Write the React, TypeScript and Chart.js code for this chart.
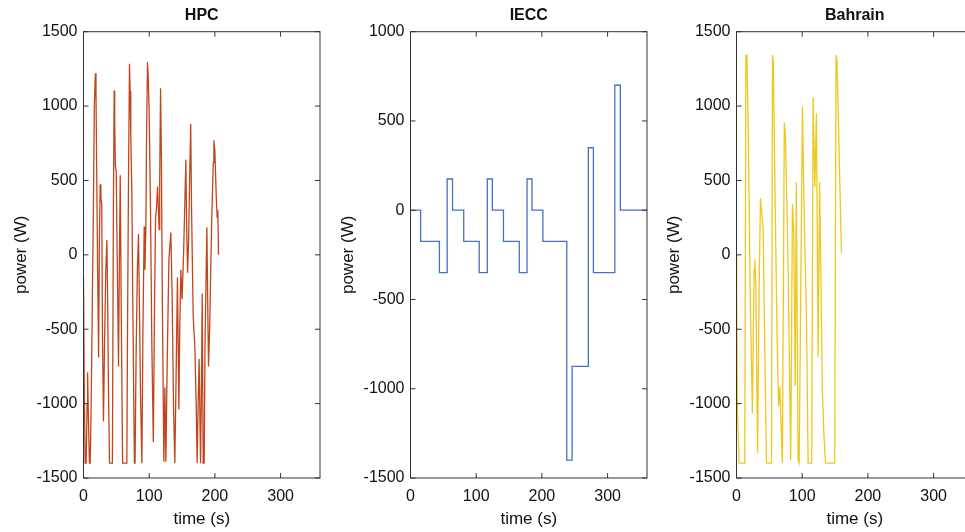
import React, { useEffect, useRef } from "react";
import { Chart, registerables } from "chart.js";

Chart.register(...registerables);

// ---------- data ----------
const panelTitles = ["HPC", "IECC", "Bahrain"];
const xTickValues = [0, 100, 200, 300];

const hpcTime = [0, 1, 2.5, 4, 5.5, 6.2, 7.5, 9, 10.2, 11.5, 13, 15, 16.5, 18, 19, 20, 21.5, 23, 24.2, 25.4, 26.5, 27.8, 28.8, 30.4, 32, 34, 35.6, 36.5, 38, 39.6, 44, 45.5, 46.7, 47.5, 48.5, 49.8, 51, 53.3, 54.5, 55.9, 57.5, 59.5, 66, 67, 68.5, 70, 71, 72, 73.6, 75, 77.5, 78.5, 80, 82, 83.7, 85, 87, 88.9, 90.5, 92.4, 93.5, 95, 96, 97.4, 98.5, 100, 102, 104, 106.3, 108, 109.7, 111, 112.7, 115.2, 116, 117.3, 118.5, 120, 122.3, 123.9, 125.4, 127.5, 130, 131.5, 133, 135, 137, 139, 141, 143, 145.2, 146.5, 148.2, 150, 152.3, 154, 155.8, 157, 158.4, 160, 161.5, 163.2, 164.5, 167, 169.5, 171.5, 173, 174.5, 176, 178.2, 179.5, 180.7, 182.2, 183.7, 185, 187.8, 189, 190.3, 192, 195, 197.5, 198.5, 200, 202, 203.5, 204.5, 205.5];
const hpcPower = [-150, -820, -1400, -1400, -1000, -790, -1100, -1400, -1400, -1060, -500, 300, 1000, 1220, 1100, 600, -100, -690, 100, 475, 380, 340, -500, -1120, -600, -100, 100, -200, -900, -1400, -1400, 300, 1105, 900, 600, 560, 100, -750, -100, 535, -400, -1400, -1400, -500, 500, 1285, 1100, 800, 410, -300, -1400, -1400, -700, -100, 140, -300, -1000, -1400, -500, 190, -100, 200, 800, 1295, 1200, 950, 300, -600, -1260, -400, 257, 300, 460, 170, 500, 1120, 700, -300, -1390, -890, -1390, -700, -30, 60, 150, -300, -1000, -1400, -800, -150, -1040, -500, -100, -300, 0, 300, 640, 200, -120, 100, 500, 880, 300, -415, -620, -1000, -1400, -1000, -700, -1400, -900, -260, -1400, -1400, -600, 185, -300, -750, -500, 200, 620, 770, 700, 400, 250, 300, 0];

const ieccTime = [0, 15.4, 44, 55.8, 64, 81, 104.6, 116.9, 124.6, 141.5, 165.6, 177.4, 185, 201.5, 237.9, 246, 270.7, 278.4, 311, 319.4, 360];
const ieccPower = [0, -175, -350, 175, 0, -175, -350, 175, 0, -175, -350, 175, 0, -175, -1400, -875, 350, -350, 700, 0, 0];

const bahrainTime = [0, 0.3, 1.5, 4, 12.6, 14.3, 16, 18, 21, 24.2, 26.8, 28, 29.5, 32, 34.5, 36.5, 38, 40.5, 45.6, 53.3, 54.8, 56, 59, 61.8, 64, 66, 69.8, 72.8, 74.5, 78.6, 82.5, 85.2, 87.2, 89.5, 91, 93.8, 95.4, 100.4, 102.5, 106.5, 109, 114.5, 116.6, 119.2, 121.7, 124.2, 126.5, 130.8, 133, 135.5, 149.5, 151.5, 153, 159.8];
const bahrainPower = [0, -240, -1050, -1400, -1400, 1340, 1340, 800, -300, -1065, -100, -30, -220, -1330, -200, 380, 300, 180, -1400, -1400, 1343, 1300, 300, -550, -1020, -886, -1400, 890, 800, -80, -1380, 340, 145, -880, 490, -1380, -1400, 996, 400, -415, -1400, -1400, 1060, 458, 950, -685, 490, -930, -1200, -1400, -1400, 1343, 1300, 10];

// ---------- styling ----------
const FONT = "'Liberation Sans', Arial, Helvetica, sans-serif";
const AXIS_COLOR = "#333333";
const TEXT_COLOR = "#111111";
const TICK_LEN = 5;

const boxTicks = {
  id: "boxTicks",
  afterDatasetsDraw(chart: any) {
    const { ctx, chartArea: a, scales } = chart;
    const xs = scales.x;
    const ys = scales.y;
    ctx.save();
    ctx.strokeStyle = AXIS_COLOR;
    ctx.lineWidth = 1;
    ctx.strokeRect(a.left, a.top, a.right - a.left, a.bottom - a.top);
    ctx.beginPath();
    xs.ticks.forEach((t: any) => {
      const x = xs.getPixelForValue(t.value);
      ctx.moveTo(x, a.bottom);
      ctx.lineTo(x, a.bottom - TICK_LEN);
      ctx.moveTo(x, a.top);
      ctx.lineTo(x, a.top + TICK_LEN);
    });
    ys.ticks.forEach((t: any) => {
      const y = ys.getPixelForValue(t.value);
      ctx.moveTo(a.left, y);
      ctx.lineTo(a.left + TICK_LEN, y);
      ctx.moveTo(a.right, y);
      ctx.lineTo(a.right - TICK_LEN, y);
    });
    ctx.stroke();
    // panel title, centred over the plot area
    const title = chart.options.plugins.panelTitle?.text ?? "";
    ctx.fillStyle = TEXT_COLOR;
    ctx.font = `bold 16px ${FONT}`;
    ctx.textAlign = "center";
    ctx.textBaseline = "middle";
    ctx.fillText(title, (a.left + a.right) / 2, 16);
    ctx.restore();
  },
};

type PanelProps = {
  left: number;
  title: string;
  times: number[];
  values: number[];
  color: string;
  yMin: number;
  yMax: number;
  stepped?: boolean;
};

const CANVAS_W = 327;
const CANVAS_H = 532;

function Panel({ left, title, times, values, color, yMin, yMax, stepped }: PanelProps) {
  const ref = useRef<HTMLCanvasElement | null>(null);
  useEffect(() => {
    if (!ref.current) return;
    const data = times.map((t, i) => ({ x: t, y: values[i] }));
    const chart = new Chart(ref.current, {
      type: "line",
      data: {
        datasets: [
          {
            data,
            borderColor: color,
            borderWidth: 1.3,
            pointRadius: 0,
            tension: 0,
            fill: false,
            stepped: stepped ? "before" : false,
          } as any,
        ],
      },
      options: {
        responsive: false,
        animation: false,
        devicePixelRatio: 1,
        layout: { padding: { left: 0, right: 7, top: 31.7, bottom: 0 } },
        plugins: {
          legend: { display: false },
          tooltip: { enabled: false },
          title: { display: false },
          panelTitle: { text: title },
        },
        scales: {
          x: {
            type: "linear",
            min: 0,
            max: 360,
            grid: { display: false, drawTicks: false },
            border: { display: false },
            ticks: {
              stepSize: 100,
              includeBounds: false,
              padding: 9,
              color: TEXT_COLOR,
              maxRotation: 0,
              font: { family: FONT, size: 16 },
              callback: (v: any) => (xTickValues.includes(Number(v)) ? String(v) : ""),
            },
            title: {
              display: true,
              text: "time (s)",
              color: TEXT_COLOR,
              font: { family: FONT, size: 17, lineHeight: 1.2 },
              padding: { top: 0, bottom: 2 },
            },
            afterFit: (s: any) => {
              s.height = 54;
            },
          },
          y: {
            type: "linear",
            min: yMin,
            max: yMax,
            grid: { display: false, drawTicks: false },
            border: { display: false },
            ticks: {
              stepSize: 500,
              padding: 6,
              color: TEXT_COLOR,
              font: { family: FONT, size: 16 },
              callback: (v: any) => String(v),
            },
            title: {
              display: true,
              text: "power (W)",
              color: TEXT_COLOR,
              font: { family: FONT, size: 17, lineHeight: 1.2 },
              padding: { top: 11, bottom: 0 },
            },
            afterFit: (s: any) => {
              s.width = 83.5;
            },
          },
        },
      } as any,
      plugins: [boxTicks],
    });
    return () => chart.destroy();
  }, [title, times, values, color, yMin, yMax, stepped]);

  return (
    <canvas
      ref={ref}
      width={CANVAS_W}
      height={CANVAS_H}
      style={{ position: "absolute", left, top: 0, width: CANVAS_W, height: CANVAS_H }}
    />
  );
}

export default function App() {
  return (
    <div
      style={{
        position: "fixed",
        left: 0,
        top: 0,
        width: 965,
        height: 532,
        overflow: "hidden",
        background: "#ffffff",
      }}
    >
      <Panel left={0} title={panelTitles[0]} times={hpcTime} values={hpcPower} color="#C0461E" yMin={-1500} yMax={1500} />
      <Panel left={327} title={panelTitles[1]} times={ieccTime} values={ieccPower} color="#4472C4" yMin={-1500} yMax={1000} stepped />
      <Panel left={653} title={panelTitles[2]} times={bahrainTime} values={bahrainPower} color="#EEC81E" yMin={-1500} yMax={1500} />
    </div>
  );
}
